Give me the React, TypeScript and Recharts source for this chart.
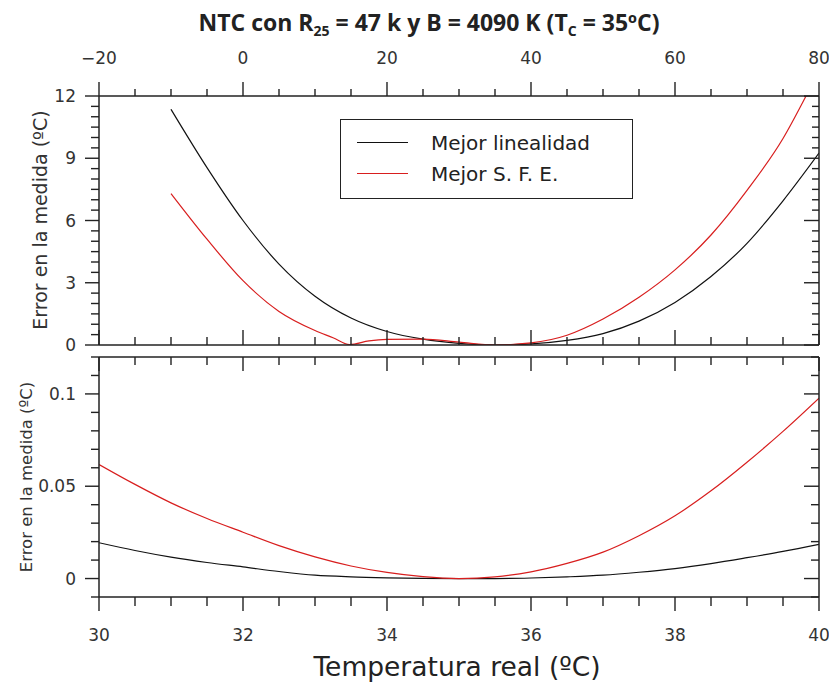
import React from 'react';
import { LineChart, Line, XAxis, YAxis, Legend, Label } from 'recharts';

// top panel: -20..80 ºC
const topTemps = [-10, -5, 0, 5, 10, 15, 20, 25, 30, 35, 40, 45, 50, 55, 60, 65, 70, 75, 80];
const topLinealidad = [11.36, 8.55, 6.0, 3.9, 2.35, 1.3, 0.65, 0.28, 0.08, 0.0, 0.05, 0.22, 0.55, 1.15, 2.05, 3.3, 4.9, 6.95, 9.25];
const topTempsSfe = [-10, -5, 0, 5, 10, 12.5, 14.8, 17.5, 20, 25, 30, 35, 40, 45, 50, 55, 60, 65, 70, 75, 78.2];
const topSfe = [7.3, 5.1, 3.1, 1.62, 0.7, 0.35, 0.02, 0.2, 0.27, 0.28, 0.14, 0.0, 0.1, 0.47, 1.25, 2.3, 3.62, 5.3, 7.45, 9.95, 12.0];

// bottom panel: zoom 30..40 ºC
const bottomTemps = [30, 30.5, 31, 31.5, 32, 32.5, 33, 33.5, 34, 34.5, 35, 35.5, 36, 36.5, 37, 37.5, 38, 38.5, 39, 39.5, 40];
const bottomLinealidad = [0.0194, 0.0152, 0.0116, 0.0087, 0.0063, 0.0038, 0.0018, 0.0009, 0.0004, 0.0001, 0.0, 0.0, 0.0003, 0.0009, 0.0018, 0.0034, 0.0054, 0.0081, 0.0113, 0.0147, 0.0185];
const bottomSfe = [0.0618, 0.051, 0.041, 0.0325, 0.0251, 0.0178, 0.0117, 0.0068, 0.0033, 0.001, 0.0, 0.0009, 0.0036, 0.0082, 0.0143, 0.0232, 0.034, 0.0475, 0.063, 0.0797, 0.0977];

// ticks (minor + major)
const topXTicks = [-20, -15, -10, -5, 0, 5, 10, 15, 20, 25, 30, 35, 40, 45, 50, 55, 60, 65, 70, 75, 80];
const topYTicks = [0, 0.5, 1, 1.5, 2, 2.5, 3, 3.5, 4, 4.5, 5, 5.5, 6, 6.5, 7, 7.5, 8, 8.5, 9, 9.5, 10, 10.5, 11, 11.5, 12];
const bottomXTicks = [30, 30.5, 31, 31.5, 32, 32.5, 33, 33.5, 34, 34.5, 35, 35.5, 36, 36.5, 37, 37.5, 38, 38.5, 39, 39.5, 40];
const bottomYTicks = [-0.01, 0, 0.01, 0.02, 0.03, 0.04, 0.05, 0.06, 0.07, 0.08, 0.09, 0.1, 0.11, 0.12];

const toPoints = (xs: number[], ys: number[]) => xs.map((t, i) => ({ t, v: ys[i] }));

const FONT = '"DejaVu Sans", sans-serif';
const AXIS = '#222';
const BLACK = '#111';
const RED = '#d81e1e';

const isMult = (v: number, step: number) => Math.abs(v / step - Math.round(v / step)) < 1e-6;

type TickOpts = {
  side: 'top' | 'bottom' | 'left' | 'right';
  dir: number;
  step: number;
  majorLen: number;
  minorLen: number;
  label?: boolean;
  offset?: number;
};

const makeTick = (o: TickOpts) => (props: any) => {
  const { x, y, payload } = props;
  const v = payload.value;
  const major = isMult(v, o.step);
  const len = major ? o.majorLen : o.minorLen;
  const horiz = o.side === 'top' || o.side === 'bottom';
  const text = Math.abs(v) < 1e-9 ? '0' : String(+v.toFixed(3));
  return (
    <g>
      {horiz ? (
        <line x1={x} y1={y} x2={x} y2={y + o.dir * len} stroke={AXIS} strokeWidth={1.4} />
      ) : (
        <line x1={x} y1={y} x2={x + o.dir * len} y2={y} stroke={AXIS} strokeWidth={1.4} />
      )}
      {o.label && major && (
        horiz ? (
          <text x={x} y={o.side === 'top' ? y - (o.offset ?? 32) : y + (o.offset ?? 44)} textAnchor="middle"
            fontFamily={FONT} fontSize={17} fill="#333">{text.replace('-', '\u2212')}</text>
        ) : (
          <text x={x - (o.offset ?? 23)} y={y} dy="0.36em" textAnchor="end"
            fontFamily={FONT} fontSize={17} fill="#333">{text}</text>
        )
      )}
    </g>
  );
};

const renderLegend = (props: any) => (
  <div style={{ boxSizing: 'border-box', width: 293, height: 80, border: `1.5px solid ${AXIS}`, background: '#fff', paddingTop: 7 }}>
    {(props.payload || []).map((e: any) => (
      <div key={e.value} style={{ display: 'flex', alignItems: 'center', height: 31 }}>
        <span style={{ marginLeft: 16, width: 51, borderTop: `1.5px solid ${e.color}` }} />
        <span style={{ marginLeft: 23, fontFamily: FONT, fontSize: 20, color: '#222' }}>{e.value}</span>
      </div>
    ))}
  </div>
);

const axisLine = { stroke: AXIS, strokeWidth: 1.5 };
const keepOrder = () => 0;

export default function App() {
  const topA = toPoints(topTemps, topLinealidad);
  const topB = toPoints(topTempsSfe, topSfe);
  const botA = toPoints(bottomTemps, bottomLinealidad);
  const botB = toPoints(bottomTemps, bottomSfe);

  return (
    <div style={{ position: 'absolute', left: 0, top: 0, width: 829, height: 682, background: '#fff' }}>
      <div style={{ position: 'absolute', left: 0, top: 0 }}>
        <LineChart width={829} height={362} margin={{ top: 95, right: 9, bottom: 16, left: 98 }}>
          <XAxis xAxisId="t" orientation="top" type="number" dataKey="t" domain={[-20, 80]} ticks={topXTicks}
            allowDataOverflow interval={0} height={1} tickSize={0} tickMargin={0} tickLine={false} axisLine={axisLine}
            tick={makeTick({ side: 'top', dir: -1, step: 20, majorLen: 14, minorLen: 7, label: true, offset: 32 })}>
            <Label content={() => (
              <text x={429} y={31} textAnchor="middle" fontFamily='"Open Sans", sans-serif' fontWeight={700} fontSize={23} fill="#222">
                NTC con R<tspan fontSize={14} dy={5}>25</tspan><tspan dy={-5}> = 47 k y B = 4090 K (T</tspan>
                <tspan fontSize={14} dy={5}>C</tspan><tspan dy={-5}> = 35ºC)</tspan>
              </text>
            )} />
          </XAxis>
          <XAxis xAxisId="b" orientation="bottom" type="number" dataKey="t" domain={[-20, 80]} ticks={topXTicks}
            allowDataOverflow interval={0} height={1} tickSize={0} tickMargin={0} tickLine={false} axisLine={axisLine}
            tick={makeTick({ side: 'bottom', dir: -1, step: 20, majorLen: 15, minorLen: 8 })} />
          <YAxis yAxisId="l" orientation="left" type="number" domain={[0, 12]} ticks={topYTicks}
            allowDataOverflow interval={0} width={1} tickSize={0} tickMargin={0} tickLine={false} axisLine={axisLine}
            tick={makeTick({ side: 'left', dir: -1, step: 3, majorLen: 14, minorLen: 8, label: true, offset: 23 })}>
            <Label content={() => (
              <text transform="translate(47,220) rotate(-90)" textAnchor="middle" fontFamily={FONT} fontSize={19} fill="#333">
                Error en la medida (ºC)
              </text>
            )} />
          </YAxis>
          <YAxis yAxisId="r" orientation="right" type="number" domain={[0, 12]} ticks={topYTicks}
            allowDataOverflow interval={0} width={1} tickSize={0} tickMargin={0} tickLine={false} axisLine={axisLine}
            tick={makeTick({ side: 'right', dir: -1, step: 3, majorLen: 15, minorLen: 7 })} />
          <Legend layout="vertical" align="center" verticalAlign="middle" content={renderLegend} itemSorter={keepOrder}
            wrapperStyle={{ left: 340, top: 119, width: 293, height: 80 }} />
          <Line xAxisId="b" yAxisId="l" data={topA} dataKey="v" name="Mejor linealidad" type="monotone"
            stroke={BLACK} strokeWidth={1.2} dot={false} isAnimationActive={false} />
          <Line xAxisId="b" yAxisId="l" data={topB} dataKey="v" name="Mejor S. F. E." type="monotone"
            stroke={RED} strokeWidth={1.2} dot={false} isAnimationActive={false} />
        </LineChart>
      </div>

      <div style={{ position: 'absolute', left: 0, top: 352 }}>
        <LineChart width={829} height={330} margin={{ top: 4, right: 9, bottom: 84, left: 98 }}>
          <XAxis xAxisId="t" orientation="top" type="number" dataKey="t" domain={[30, 40]} ticks={bottomXTicks}
            allowDataOverflow interval={0} height={1} tickSize={0} tickMargin={0} tickLine={false} axisLine={axisLine}
            tick={makeTick({ side: 'top', dir: 1, step: 2, majorLen: 14, minorLen: 8 })} />
          <XAxis xAxisId="b" orientation="bottom" type="number" dataKey="t" domain={[30, 40]} ticks={bottomXTicks}
            allowDataOverflow interval={0} height={1} tickSize={0} tickMargin={0} tickLine={false} axisLine={axisLine}
            tick={makeTick({ side: 'bottom', dir: 1, step: 2, majorLen: 14, minorLen: 9, label: true, offset: 44 })}>
            <Label content={() => (
              <text x={457} y={324} textAnchor="middle" fontFamily={FONT} fontSize={26.5} fill="#222">
                Temperatura real (ºC)
              </text>
            )} />
          </XAxis>
          <YAxis yAxisId="l" orientation="left" type="number" domain={[-0.01, 0.12]} ticks={bottomYTicks}
            allowDataOverflow interval={0} width={1} tickSize={0} tickMargin={0} tickLine={false} axisLine={axisLine}
            tick={makeTick({ side: 'left', dir: -1, step: 0.05, majorLen: 14, minorLen: 8, label: true, offset: 23 })}>
            <Label content={() => (
              <text transform="translate(32,125) rotate(-90)" textAnchor="middle" fontFamily={FONT} fontSize={16.5} fill="#333">
                Error en la medida (ºC)
              </text>
            )} />
          </YAxis>
          <YAxis yAxisId="r" orientation="right" type="number" domain={[-0.01, 0.12]} ticks={bottomYTicks}
            allowDataOverflow interval={0} width={1} tickSize={0} tickMargin={0} tickLine={false} axisLine={axisLine}
            tick={makeTick({ side: 'right', dir: -1, step: 0.05, majorLen: 15, minorLen: 8 })} />
          <Line xAxisId="b" yAxisId="l" data={botA} dataKey="v" name="Mejor linealidad" type="monotone"
            stroke={BLACK} strokeWidth={1.2} dot={false} isAnimationActive={false} />
          <Line xAxisId="b" yAxisId="l" data={botB} dataKey="v" name="Mejor S. F. E." type="monotone"
            stroke={RED} strokeWidth={1.2} dot={false} isAnimationActive={false} />
        </LineChart>
      </div>
    </div>
  );
}
